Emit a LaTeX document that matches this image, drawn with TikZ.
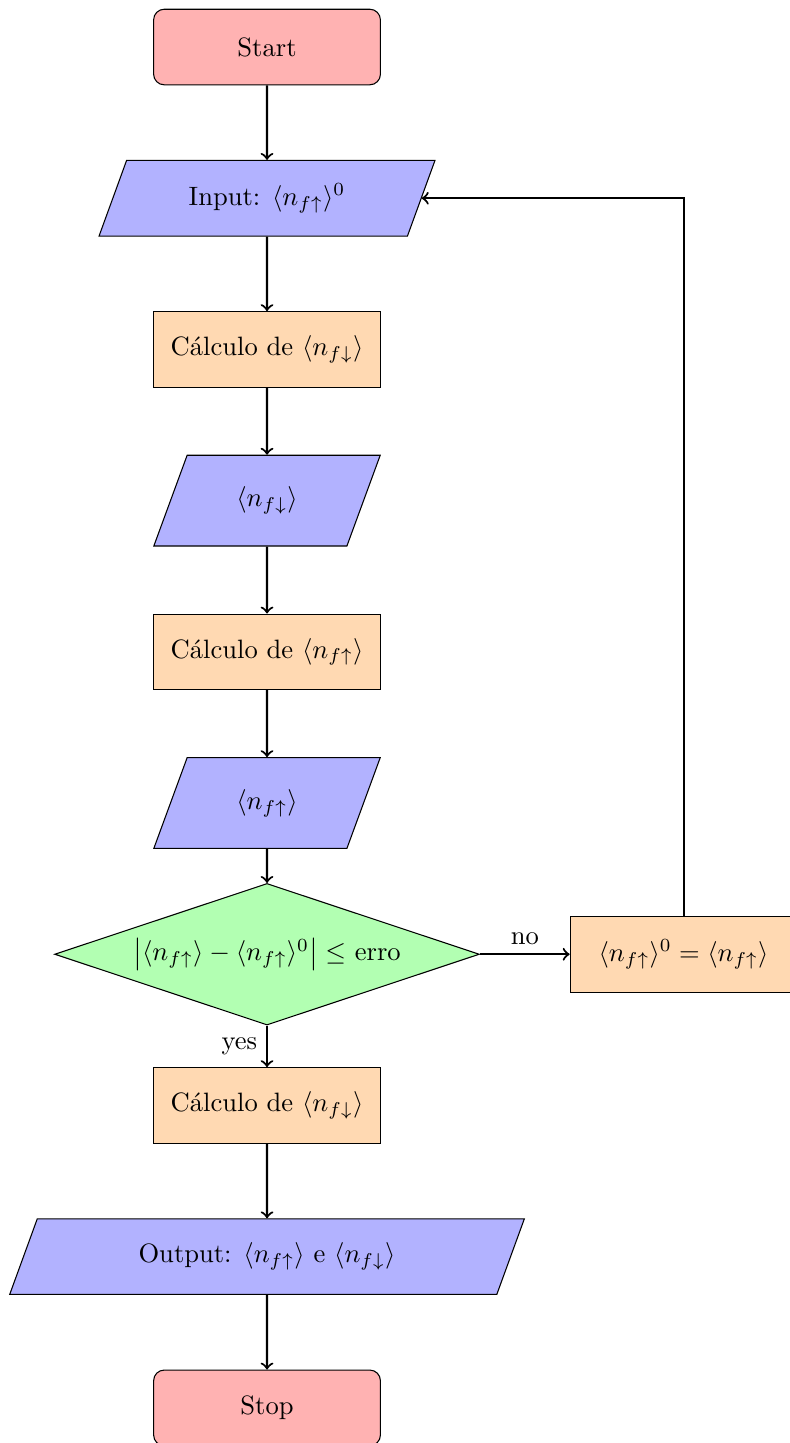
\documentclass[tikz,border=0pt]{standalone}
\usetikzlibrary{shapes.geometric,arrows}
\tikzset{
  startstop/.style={rectangle, rounded corners, minimum width=3cm, minimum height=1cm, text centered, draw=black, fill=red!30},
  io/.style={trapezium, trapezium left angle=70, trapezium right angle=110, trapezium stretches=true, minimum height=1cm, text centered, draw=black, fill=blue!30},
  process/.style={rectangle, minimum width=3cm, minimum height=1cm, text centered, draw=black, fill=orange!30},
  decision/.style={diamond, aspect=3, inner sep=2.9pt, minimum width=5.6cm, minimum height=1.86cm, text centered, draw=black, fill=green!30},
  arrow/.style={thick,->,>=to}
}
\begin{document}
\begin{tikzpicture}
\useasboundingbox (-3.532,0.622) rectangle (6.905,-18.465);
\node (start) [startstop] at (0,0) {Start};
\node (in1) [io, minimum width=4.46cm] at (0,-2) {Input: $\langle n_{f\uparrow}\rangle^0$};
\node (pro1) [process] at (0,-4) {C\'alculo de $\langle n_{f\downarrow}\rangle$};
\node (out1) [io, minimum width=3cm, minimum height=1.2cm] at (0,-6) {$\langle n_{f\downarrow}\rangle$};
\node (pro2) [process] at (0,-8) {C\'alculo de $\langle n_{f\uparrow}\rangle$};
\node (out2) [io, minimum width=3cm, minimum height=1.2cm] at (0,-10) {$\langle n_{f\uparrow}\rangle$};
\node (dec1) [decision] at (0,-12) {$\left|\langle n_{f\uparrow}\rangle - \langle n_{f\uparrow}\rangle^0\right| \leq$ erro};
\node (pro3) [process] at (5.51,-12) {$\langle n_{f\uparrow}\rangle^0 = \langle n_{f\uparrow}\rangle$};
\node (pro4) [process] at (0,-14) {C\'alculo de $\langle n_{f\downarrow}\rangle$};
\node (out3) [io, minimum width=6.81cm] at (0,-16) {Output: $\langle n_{f\uparrow}\rangle$ e $\langle n_{f\downarrow}\rangle$};
\node (stop) [startstop] at (0,-18) {Stop};
\draw [arrow] (start) -- (in1);
\draw [arrow] (in1) -- (pro1);
\draw [arrow] (pro1) -- (out1);
\draw [arrow] (out1) -- (pro2);
\draw [arrow] (pro2) -- (out2);
\draw [arrow] (out2) -- (dec1);
\draw [arrow] (dec1) -- node[anchor=south] {no} (pro3);
\draw [arrow] (dec1) -- node[anchor=east] {yes} (pro4);
\draw [arrow] (pro3.north) |- (in1.east);
\draw [arrow] (pro4) -- (out3);
\draw [arrow] (out3) -- (stop);
\end{tikzpicture}
\end{document}
